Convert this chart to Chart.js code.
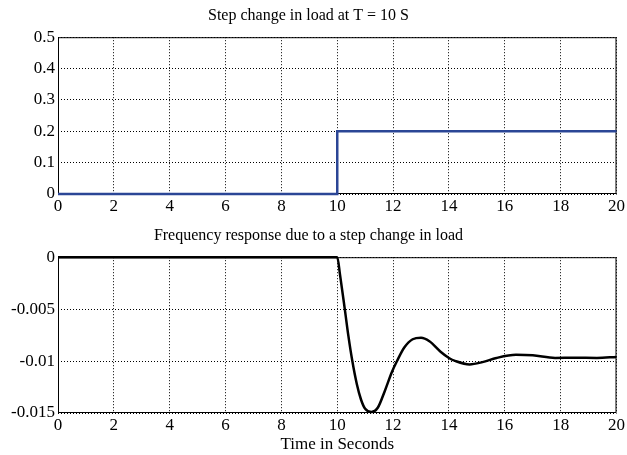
<!DOCTYPE html>
<html>
<head>
<meta charset="utf-8">
<script src="https://cdn.jsdelivr.net/npm/chart.js@4/dist/chart.umd.min.js"></script>
<style>
    html, body { margin: 0; padding: 0; background: #fff; }
    #wrap { position: relative; width: 627px; height: 455px; }
    #topBox { position: absolute; left: 0; top: 0; width: 627px; height: 215px; }
    #bottomBox { position: absolute; left: 0; top: 220px; width: 627px; height: 235px; }
</style>
</head>
<body>
<div id="wrap">
    <div id="topBox"><canvas id="loadChart" width="627" height="215"></canvas></div>
    <div id="bottomBox"><canvas id="freqChart" width="627" height="235"></canvas></div>
</div>
<script>
// Step load input (time in s, value in pu)
const loadTime = [0, 10, 10, 20];
const loadValue = [0, 0, 0.2, 0.2];

// Frequency deviation
const freqTime = [0, 10, 10.1, 10.27, 10.4, 10.54, 10.7, 10.85, 11.0, 11.22, 11.45, 11.7, 11.95,
    12.14, 12.4, 12.7, 13.0, 13.3, 13.7, 14.0, 14.24, 14.74, 15.2, 15.7, 16.4, 17.0, 17.8, 18.5, 19.3, 20];
const freqValue = [0, 0, -0.0017, -0.005, -0.0076, -0.01, -0.0122, -0.0137, -0.0146, -0.0149, -0.0145,
    -0.0129, -0.0111, -0.01, -0.0087, -0.0079, -0.00776, -0.0081, -0.0091, -0.0097, -0.01, -0.01032,
    -0.0101, -0.0097, -0.0094, -0.00945, -0.0097, -0.00968, -0.0097, -0.0096];

// Tick labels
const xTicks = [0, 2, 4, 6, 8, 10, 12, 14, 16, 18, 20];
const loadTicks = [0, 0.1, 0.2, 0.3, 0.4, 0.5];
const freqTicks = [-0.015, -0.01, -0.005, 0];

const serif = "'Liberation Serif', 'DejaVu Serif', serif";

// Solid box around the plot area, drawn under the lines
const framePlugin = {
    id: 'frame',
    beforeDatasetsDraw(chart) {
        const { ctx, chartArea: a } = chart;
        ctx.save();
        ctx.strokeStyle = '#000';
        ctx.lineWidth = 1;
        ctx.strokeRect(a.left + 0.5, a.top + 0.5, a.right - a.left - 1, a.bottom - a.top - 1);
        ctx.restore();
    }
};

function toPoints(xs, ys) {
    return xs.map((x, i) => ({ x: x, y: ys[i] }));
}

function makeOptions(title, yMin, yMax, yTicks, xTitle, xHeight) {
    return {
        responsive: false,
        animation: false,
        layout: { padding: { left: 0, right: 10, top: 0, bottom: 0 } },
        plugins: {
            legend: { display: false },
            tooltip: { enabled: false },
            title: {
                display: true,
                text: title,
                color: '#000',
                font: { family: serif, size: 16, weight: 'normal' },
                padding: { top: 6, bottom: 12 }
            }
        },
        scales: {
            x: {
                type: 'linear',
                min: 0,
                max: 20,
                afterBuildTicks: scale => { scale.ticks = xTicks.map(v => ({ value: v })); },
                afterFit: scale => { scale.height = xHeight; },
                ticks: {
                    color: '#000',
                    padding: 2,
                    maxRotation: 0,
                    font: { family: serif, size: 17 },
                    callback: v => String(v)
                },
                grid: { color: '#000', lineWidth: 1, drawTicks: false },
                border: { display: false, dash: [1, 2] },
                title: {
                    display: !!xTitle,
                    text: xTitle,
                    color: '#000',
                    font: { family: serif, size: 17 },
                    padding: { top: 1, bottom: 0 }
                }
            },
            y: {
                min: yMin,
                max: yMax,
                afterBuildTicks: scale => { scale.ticks = yTicks.map(v => ({ value: v })); },
                afterFit: scale => { scale.width = 58; },
                ticks: {
                    color: '#000',
                    padding: 3,
                    font: { family: serif, size: 17 },
                    callback: v => String(v)
                },
                grid: { color: '#000', lineWidth: 1, drawTicks: false },
                border: { display: false, dash: [1, 2] }
            }
        }
    };
}

new Chart(document.getElementById('loadChart').getContext('2d'), {
    type: 'line',
    data: {
        datasets: [{
            data: toPoints(loadTime, loadValue),
            borderColor: '#2B4696',
            borderWidth: 2.5,
            pointRadius: 0,
            tension: 0,
            clip: 4
        }]
    },
    options: makeOptions('Step change in load at T = 10 S', 0, 0.5, loadTicks, '', 21),
    plugins: [framePlugin]
});

new Chart(document.getElementById('freqChart').getContext('2d'), {
    type: 'line',
    data: {
        datasets: [{
            data: toPoints(freqTime, freqValue),
            borderColor: '#000',
            borderWidth: 2.5,
            pointRadius: 0,
            cubicInterpolationMode: 'monotone',
            clip: 4
        }]
    },
    options: makeOptions('Frequency response due to a step change in load', -0.015, 0, freqTicks, 'Time in Seconds', 42),
    plugins: [framePlugin]
});
</script>
</body>
</html>
